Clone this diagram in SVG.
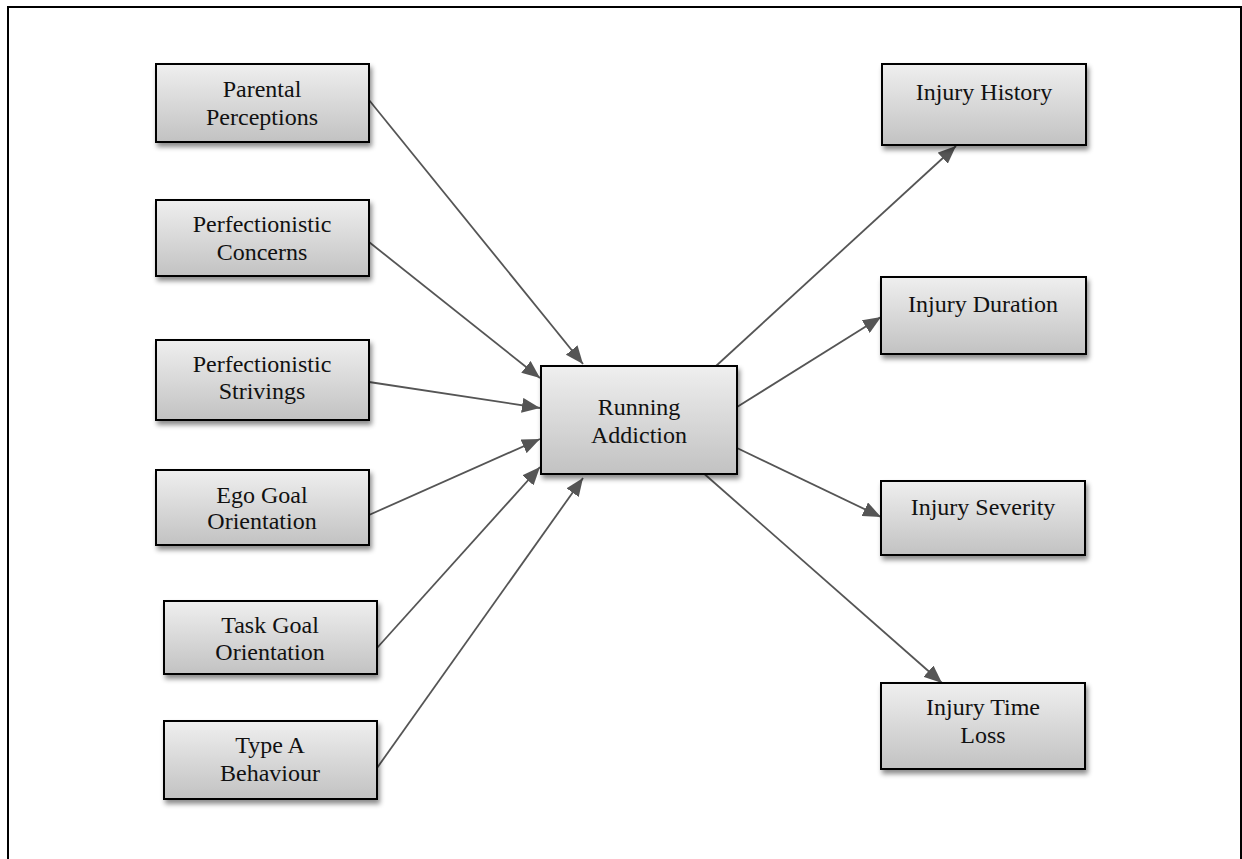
<svg xmlns="http://www.w3.org/2000/svg" width="1242" height="859" viewBox="0 0 1242 859">
<defs>
<linearGradient id="g" x1="0" y1="0" x2="0" y2="1">
<stop offset="0" stop-color="#efefef"/>
<stop offset="1" stop-color="#c2c2c2"/>
</linearGradient>
<filter id="sh" x="-10%" y="-10%" width="125%" height="135%">
<feDropShadow dx="2" dy="4" stdDeviation="2.5" flood-color="#000" flood-opacity="0.45"/>
</filter>
<marker id="ah" markerUnits="userSpaceOnUse" markerWidth="18" markerHeight="15" refX="18" refY="7.5" orient="auto">
<path d="M0,0 L18,7.5 L0,15 Z" fill="#555"/>
</marker>
<style>
.box{fill:url(#g);stroke:#000;stroke-width:2;filter:url(#sh)}
.t{font-family:"Liberation Serif","Times New Roman",serif;font-size:24px;fill:#111;text-anchor:middle}
.c{stroke:#555;stroke-width:1.8;fill:none;marker-end:url(#ah)}
</style>
</defs>
<rect width="1242" height="859" fill="#fff"/>
<path d="M8,860 V7 H1241 V860" fill="none" stroke="#000" stroke-width="2"/>

<g id="connectors">
<line class="c" x1="369" y1="100" x2="583" y2="364"/>
<line class="c" x1="369" y1="242" x2="540" y2="378"/>
<line class="c" x1="369" y1="382" x2="540" y2="408"/>
<line class="c" x1="369" y1="515" x2="540" y2="439"/>
<line class="c" x1="377" y1="648" x2="540" y2="467"/>
<line class="c" x1="377" y1="768" x2="583" y2="478"/>
<line class="c" x1="716" y1="366" x2="956" y2="146"/>
<line class="c" x1="737" y1="407" x2="881" y2="317"/>
<line class="c" x1="737" y1="448" x2="881" y2="517"/>
<line class="c" x1="701" y1="471" x2="942" y2="683"/>
</g>

<g id="parental"><rect class="box" x="156" y="64" width="213" height="78"/><text class="t" x="262" y="97">Parental</text><text class="t" x="262" y="125">Perceptions</text></g>
<g id="concerns"><rect class="box" x="156" y="200" width="213" height="76"/><text class="t" x="262" y="232">Perfectionistic</text><text class="t" x="262" y="260">Concerns</text></g>
<g id="strivings"><rect class="box" x="156" y="340" width="213" height="80"/><text class="t" x="262" y="372">Perfectionistic</text><text class="t" x="262" y="399">Strivings</text></g>
<g id="ego"><rect class="box" x="156" y="470" width="213" height="75"/><text class="t" x="262" y="503">Ego Goal</text><text class="t" x="262" y="529">Orientation</text></g>
<g id="task"><rect class="box" x="164" y="601" width="213" height="73"/><text class="t" x="270" y="633">Task Goal</text><text class="t" x="270" y="660">Orientation</text></g>
<g id="typea"><rect class="box" x="164" y="721" width="213" height="78"/><text class="t" x="270" y="753">Type A</text><text class="t" x="270" y="781">Behaviour</text></g>

<g id="running"><rect class="box" x="541" y="366" width="196" height="108"/><text class="t" x="639" y="415">Running</text><text class="t" x="639" y="443">Addiction</text></g>

<g id="history"><rect class="box" x="882" y="64" width="204" height="81"/><text class="t" x="984" y="100">Injury History</text></g>
<g id="duration"><rect class="box" x="881" y="277" width="205" height="77"/><text class="t" x="983" y="312">Injury Duration</text></g>
<g id="severity"><rect class="box" x="881" y="481" width="204" height="74"/><text class="t" x="983" y="515">Injury Severity</text></g>
<g id="timeloss"><rect class="box" x="881" y="683" width="204" height="86"/><text class="t" x="983" y="715">Injury Time</text><text class="t" x="983" y="743">Loss</text></g>
</svg>
